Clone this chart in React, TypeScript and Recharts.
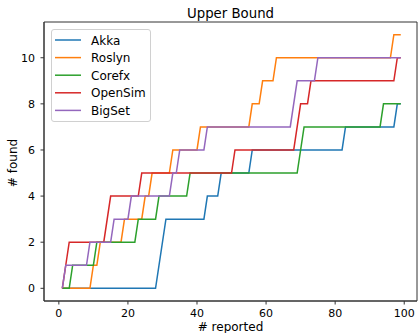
import React from "react";
import { LineChart, Line, XAxis, YAxis, Legend, ReferenceArea } from "recharts";

// # reported (x) and # found (y) breakpoints for each project
const akkaReported = [1, 28, 31, 42, 43, 46, 47, 55, 56, 82, 83, 97, 98, 99];
const akkaFound = [0, 0, 3, 3, 4, 4, 5, 5, 6, 6, 7, 7, 8, 8];

const roslynReported = [1, 9, 10, 11, 12, 18, 19, 24, 25, 26, 27, 32, 33, 40, 41, 55, 56, 58, 59, 62, 63, 96, 97, 99];
const roslynFound = [0, 0, 1, 1, 2, 2, 3, 3, 4, 4, 5, 5, 6, 6, 7, 7, 8, 8, 9, 9, 10, 10, 11, 11];

const corefxReported = [1, 3, 4, 10, 11, 22, 23, 28, 29, 37, 38, 69, 71, 93, 94, 99];
const corefxFound = [0, 0, 1, 1, 2, 2, 3, 3, 4, 4, 5, 5, 7, 7, 8, 8];

const openSimReported = [1, 2, 3, 13, 15, 23, 24, 50, 51, 68, 70, 72, 73, 97, 98, 99];
const openSimFound = [0, 1, 2, 2, 4, 4, 5, 5, 6, 6, 8, 8, 9, 9, 10, 10];

const bigSetReported = [1, 2, 8, 9, 15, 16, 20, 21, 32, 33, 34, 35, 42, 43, 67, 69, 74, 75, 99];
const bigSetFound = [0, 1, 1, 2, 2, 3, 3, 4, 4, 5, 5, 6, 6, 7, 7, 9, 9, 10, 10];

const xTicks = [0, 20, 40, 60, 80, 100];
const yTicks = [0, 2, 4, 6, 8, 10];

const seriesNames = ["Akka", "Roslyn", "Corefx", "OpenSim", "BigSet"];
const seriesColors = ["#1f77b4", "#ff7f0e", "#2ca02c", "#d62728", "#9467bd"];

const X_DOMAIN: [number, number] = [-4.3, 103.7];
const Y_DOMAIN: [number, number] = [-0.55, 11.55];

const zip = (xs: number[], ys: number[]) => xs.map((x, i) => ({ x, y: ys[i] }));

const seriesData = [
  zip(akkaReported, akkaFound),
  zip(roslynReported, roslynFound),
  zip(corefxReported, corefxFound),
  zip(openSimReported, openSimFound),
  zip(bigSetReported, bigSetFound),
];

const FONT = "'DejaVu Sans', sans-serif";

const renderLegend = () => {
  return (
    <div
      style={{
        boxSizing: "border-box",
        width: 100,
        height: 93,
        border: "1px solid #d0d0d0",
        borderRadius: 3,
        background: "rgba(255,255,255,0.85)",
        position: "relative",
        fontFamily: FONT,
        fontSize: 12,
      }}
    >
      <svg width={40} height={93} style={{ position: "absolute", left: -1, top: -1 }}>
        {seriesNames.map((name, i) => (
          <line
            key={name}
            x1={4}
            x2={30}
            y1={11 + i * 17.6}
            y2={11 + i * 17.6}
            stroke={seriesColors[i]}
            strokeWidth={1.5}
          />
        ))}
      </svg>
      {seriesNames.map((name, i) => (
        <div
          key={name}
          style={{
            position: "absolute",
            left: 39,
            top: 4.5 + i * 17.6,
            lineHeight: "12px",
            color: "#000",
            whiteSpace: "nowrap",
          }}
        >
          {name}
        </div>
      ))}
    </div>
  );
};

export default function App() {
  return (
    <div style={{ position: "absolute", left: 0, top: 0, width: 419, height: 333, background: "#fff" }}>
      <div
        style={{
          position: "absolute",
          left: 44,
          top: 6.8,
          width: 373,
          textAlign: "center",
          fontFamily: FONT,
          fontSize: 13.3,
          lineHeight: "13.3px",
          color: "#000",
        }}
      >
        Upper Bound
      </div>
      <div
        style={{
          position: "absolute",
          left: 13.2 - 50,
          top: 163 - 6,
          width: 100,
          height: 12,
          textAlign: "center",
          fontFamily: FONT,
          fontSize: 12,
          lineHeight: "12px",
          transform: "rotate(-90deg)",
          color: "#000",
        }}
      >
        # found
      </div>
      <div
        style={{
          position: "absolute",
          left: 44,
          top: 320.5,
          width: 373,
          textAlign: "center",
          fontFamily: FONT,
          fontSize: 12,
          lineHeight: "12px",
          color: "#000",
        }}
      >
        # reported
      </div>
      <LineChart
        width={419}
        height={333}
        margin={{ top: 22, right: 2, bottom: 0, left: 0 }}
        style={{ position: "absolute", left: 0, top: 0 }}
      >
        <XAxis
          type="number"
          dataKey="x"
          domain={X_DOMAIN}
          ticks={xTicks}
          allowDataOverflow
          height={32}
          tickSize={3.5}
          tickMargin={4.5}
          tick={{ fontSize: 11, fill: "#000", fontFamily: FONT }}
          axisLine={{ stroke: "#333" }}
          tickLine={{ stroke: "#333" }}
        />
        <YAxis
          type="number"
          domain={Y_DOMAIN}
          ticks={yTicks}
          allowDataOverflow
          width={44}
          tickSize={3.5}
          tickMargin={5.5}
          tick={{ fontSize: 11, fill: "#000", fontFamily: FONT }}
          axisLine={{ stroke: "#333" }}
          tickLine={{ stroke: "#333" }}
        />
        <ReferenceArea
          x1={X_DOMAIN[0]}
          x2={X_DOMAIN[1]}
          y1={Y_DOMAIN[0]}
          y2={Y_DOMAIN[1]}
          fill="none"
          fillOpacity={0}
          stroke="#333"
          strokeWidth={1}
          ifOverflow="visible"
        />
        <Legend
          layout="vertical"
          align="center"
          verticalAlign="middle"
          content={renderLegend}
          wrapperStyle={{ left: 51, top: 29, width: 100, height: 93 }}
        />
        {seriesData.map((d, i) => (
          <Line
            key={seriesNames[i]}
            data={d}
            dataKey="y"
            name={seriesNames[i]}
            type="linear"
            stroke={seriesColors[i]}
            strokeWidth={1.5}
            dot={false}
            activeDot={false}
            isAnimationActive={false}
          />
        ))}
      </LineChart>
    </div>
  );
}
